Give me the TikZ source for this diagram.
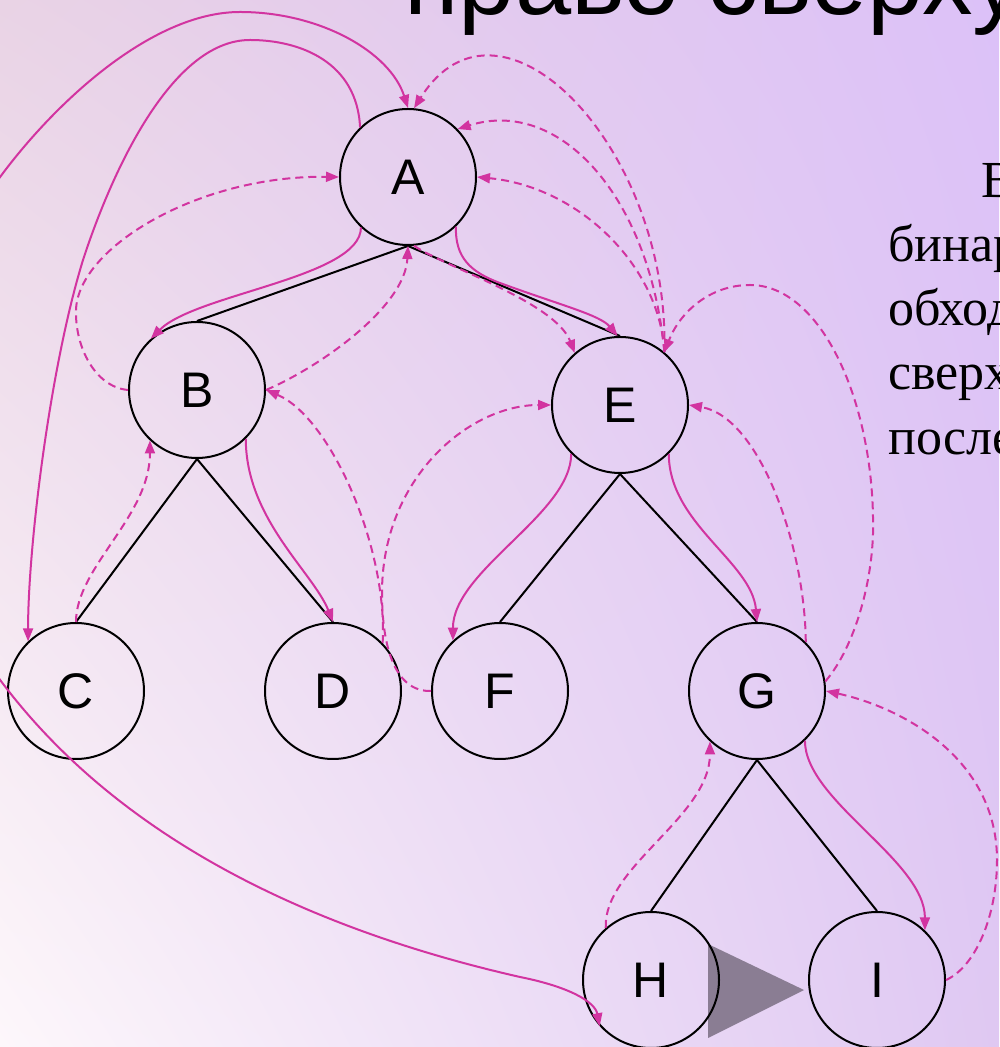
\documentclass[tikz,border=0pt]{standalone}
\usepackage{fontspec}
\setmainfont{Liberation Serif}
\newfontfamily\sansf{Liberation Sans}
\usetikzlibrary{arrows.meta,shadings}
\definecolor{mag}{RGB}{210,52,160}
\definecolor{trigray}{RGB}{138,125,147}
\definecolor{bgUL}{RGB}{233,211,229}
\definecolor{bgUR}{RGB}{220,193,248}
\definecolor{bgLL}{RGB}{253,247,251}
\definecolor{bgLR}{RGB}{223,200,242}
\begin{document}
\begin{tikzpicture}[x=1pt,y=1pt,
  vtx/.style={circle,draw=black,line width=2pt,minimum size=136pt,inner sep=0pt,
    font=\sansf\fontsize{50}{50}\selectfont},
  tree/.style={draw=black,line width=2pt},
  thr/.style={draw=mag,line width=2pt,-{Triangle[length=13pt,width=10pt]}},
  ret/.style={thr,dash pattern=on 8pt off 5pt},
  txt/.style={anchor=base west,inner sep=0pt,font=\fontsize{52}{52}\selectfont}]
\useasboundingbox (0,0) rectangle (999,1047);
\clip (0,0) rectangle (999,1047);
\shade[upper left=bgUL,upper right=bgUR,lower left=bgLL,lower right=bgLR] (0,0) rectangle (999,1047);

% title (cut by the top edge)
\node[anchor=base west,inner sep=0pt,font=\sansf\fontsize{101}{101}\selectfont] (title) at (404,1032) {право сверху};

% side text (cut by the right edge)
\node[txt] (t1) at (981,849) {В};
\node[txt] (t2) at (888,785) {бинар};
\node[txt] (t3) at (888,721) {обход};
\node[txt] (t4) at (888,657) {сверх};
\node[txt] (t5) at (888,592) {после};

% grey play triangle
\fill[trigray] (708,103) -- (708,9) -- (804,57) -- cycle;

% vertices
\node[vtx] (A) at (408,870) {A};
\node[vtx] (B) at (197,657) {B};
\node[vtx] (E) at (620,642) {E};
\node[vtx] (C) at (76,356) {C};
\node[vtx] (D) at (333,356) {D};
\node[vtx] (F) at (500,356) {F};
\node[vtx] (G) at (757,356) {G};
\node[vtx] (H) at (651,67) {H};
\node[vtx] (I) at (877,67) {I};

% tree edges
\draw[tree] (A.south) -- (B.north);
\draw[tree] (A.south) -- (E.north);
\draw[tree] (B.south) -- (C.north);
\draw[tree] (B.south) -- (D.north);
\draw[tree] (E.south) -- (F.north);
\draw[tree] (E.south) -- (G.north);
\draw[tree] (G.south) -- (H.north);
\draw[tree] (G.south) -- (I.north);

% solid traversal arrows
\draw[thr] (A.227) .. controls +(0,-50) and +(45,45) .. (B.132);
\draw[thr] (A.314) .. controls (455,790) and (470,775) .. (500,764)
                   .. controls (560,742) and (600,732) .. (E.92);
\draw[thr] (B.315) .. controls +(0,-80) and +(-20,50) .. (D.90);
\draw[thr] (E.225) .. controls +(0,-60) and +(0,70) .. (F.133);
\draw[thr] (E.315) .. controls +(0,-70) and +(-5,60) .. (G.90);
\draw[thr] (G.314) .. controls +(0,-60) and +(0,70) .. (I.46);
\draw[thr] (A.134) .. controls (357,985) and (300,1007) .. (250,1007)
                   .. controls (170,1007) and (110,870) .. (83,787)
                   .. controls (50,680) and (28,500) .. (C.134);
\coordinate (offA) at (-5,863);
\draw[thr] (offA) .. controls (50,940) and (150,1035) .. (240,1035)
                  .. controls (320,1035) and (390,995) .. (A.90);
\coordinate (offH) at (-5,374);
\draw[thr] (offH) .. controls (110,215) and (300,120) .. (520,70)
                  .. controls (570,60) and (595,45) .. (H.222);

% dashed return arrows
\draw[ret] (B.180) .. controls (95,660) and (75,700) .. (76,737)
                   .. controls (78,800) and (200,872) .. (A.180);
\draw[ret] (B.0) .. controls (320,680) and (405,740) .. (A.270);
\draw[ret] (D.44) .. controls (388,500) and (330,630) .. (B.0);
\draw[ret] (A.275) .. controls (445,780) and (555,745) .. (E.131);
\draw[ret] (E.50) .. controls (670,900) and (500,1075) .. (A.85);
\draw[ret] (E.50) .. controls (650,850) and (560,950) .. (A.44);
\draw[ret] (E.50) .. controls (660,780) and (580,860) .. (A.0);
\draw[ret] (G.8) .. controls (855,400) and (875,470) .. (873,530)
                 .. controls (871,650) and (820,762) .. (750,762)
                 .. controls (710,762) and (680,735) .. (E.50);
\draw[ret] (G.45) .. controls (805,500) and (760,630) .. (E.0);
\draw[ret] (F.180) .. controls (395,355) and (382,400) .. (382,454)
                   .. controls (382,570) and (470,642) .. (E.180);
\draw[ret] (C.90) .. controls (76,480) and (150,530) .. (B.227);
\draw[ret] (H.131) .. controls (603,180) and (710,230) .. (G.227);
\draw[ret] (I.0) .. controls (975,80) and (997,130) .. (997,187)
                 .. controls (997,290) and (900,340) .. (G.0);
\end{tikzpicture}
\end{document}
